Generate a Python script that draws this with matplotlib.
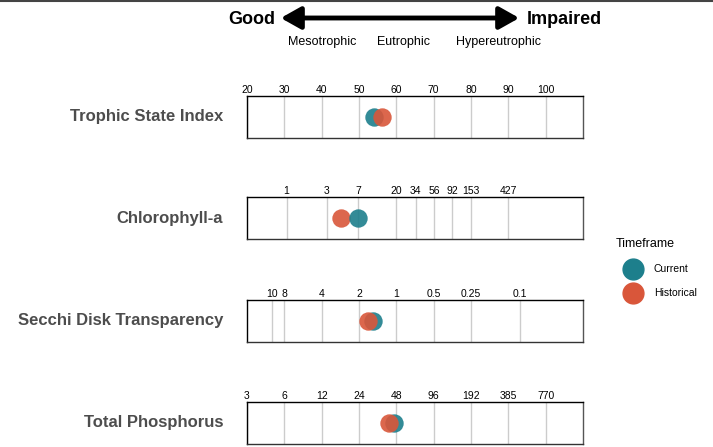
import numpy as np
import matplotlib
matplotlib.use("Agg")
import matplotlib.pyplot as plt
from matplotlib.lines import Line2D

plt.rcParams["font.family"] = ["Liberation Sans", "DejaVu Sans"]

# panel names and tick labels (all drawn on the TSI scale)
panels = ["Trophic State Index", "Chlorophyll-a", "Secchi Disk Transparency", "Total Phosphorus"]
tsi_ticks = [20, 30, 40, 50, 60, 70, 80, 90, 100]
chl_ticks = [1, 3, 7, 20, 34, 56, 92, 153, 427]
secchi_ticks = [10, 8, 4, 2, 1, 0.5, 0.25, 0.1]
tp_ticks = [3, 6, 12, 24, 48, 96, 192, 385, 770]

# values, as TSI
current = [53.9, 49.7, 53.7, 59.3]
historical = [56.2, 45.2, 52.5, 57.9]

col_cur = "#1d7f8c"
col_hist = "#d9563a"


def tsi_chl(c):
    return 9.81 * np.log(np.array(c, float)) + 30.6


def tsi_sd(s):
    return 60 - 14.41 * np.log(np.array(s, float))


def tsi_tp(p):
    return 14.42 * np.log(np.array(p, float)) + 4.15


tick_pos = [np.array(tsi_ticks, float), tsi_chl(chl_ticks), tsi_sd(secchi_ticks), tsi_tp(tp_ticks)]
tick_lab = [tsi_ticks, chl_ticks, secchi_ticks, tp_ticks]

fig = plt.figure(figsize=(7.13, 4.47), dpi=100)
W, H = 713, 447

# header
fig.add_artist(Line2D([0, 1], [1 - 1 / H, 1 - 1 / H], color="#444444", lw=1.5))
fig.text(275 / W, 1 - 19 / H, "Good", ha="right", va="center", fontsize=13, fontweight="bold")
fig.text(527 / W, 1 - 19 / H, "Impaired", ha="left", va="center", fontsize=13, fontweight="bold")
fig.patches.append(matplotlib.patches.FancyArrowPatch(
    (278 / W, 1 - 18 / H), (522 / W, 1 - 18 / H), transform=fig.transFigure,
    arrowstyle="<|-|>,head_length=8,head_width=4.5", lw=3.5, color="black", mutation_scale=1.5))
for x, t in zip([322, 404, 499], ["Mesotrophic", "Eutrophic", "Hypereutrophic"]):
    fig.text(x / W, 1 - 42 / H, t, ha="center", va="center", fontsize=9)

tops = [96, 197, 300, 402]
order_top = ["h", "c", "h", "h"]
for i, name in enumerate(panels):
    top = tops[i]
    ax = fig.add_axes([247 / W, 1 - (top + 42) / H, 336 / W, 42 / H])
    ax.set_xlim(20, 110)
    ax.set_ylim(0, 1)
    for p in tick_pos[i]:
        ax.axvline(p, color="#cccccc", lw=1, zorder=0)
    ax.set_xticks(tick_pos[i])
    ax.set_xticklabels([str(v) for v in tick_lab[i]])
    ax.xaxis.tick_top()
    ax.tick_params(axis="x", length=0, pad=1, labelsize=7.5)
    ax.set_yticks([])
    for s in ax.spines.values():
        s.set_linewidth(1)
        s.set_color("black")
    ax.spines["right"].set_color("#555555")
    ax.spines["bottom"].set_color("#333333")
    zc, zh = (3, 4) if order_top[i] == "h" else (4, 3)
    ax.scatter([current[i]], [0.5], s=175, color=col_cur, alpha=0.9, lw=0, zorder=zc)
    ax.scatter([historical[i]], [0.5], s=175, color=col_hist, alpha=0.9, lw=0, zorder=zh)
    fig.text(223 / W, 1 - (top + 21) / H, name, ha="right", va="center",
             fontsize=12, fontweight="bold", color="#4d4d4d")

handles = [Line2D([], [], marker="o", ls="", ms=15, color=col_cur, label="Current"),
           Line2D([], [], marker="o", ls="", ms=15, color=col_hist, label="Historical")]
fig.legend(handles=handles, title="Timeframe", loc="upper left", bbox_to_anchor=(606 / W, 1 - 229 / H),
           frameon=False, fontsize=7.5, title_fontsize=9, alignment="left",
           handlelength=3.4, handletextpad=0.3, labelspacing=1.35)

fig.savefig("out.png", dpi=100)
